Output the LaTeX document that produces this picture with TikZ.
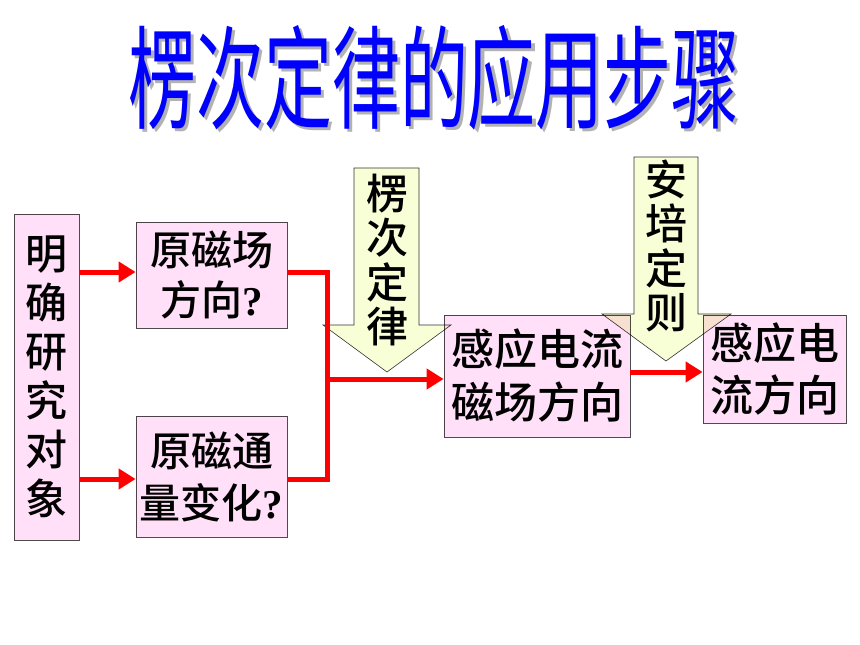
\documentclass[tikz,border=0pt]{standalone}
\usepackage{fontspec}
\newfontfamily\cjk{Noto Sans CJK SC Medium}
\newfontfamily\cjktitle{Noto Sans CJK SC}
\newfontfamily\qmark{Liberation Serif}
\usetikzlibrary{arrows.meta}
\definecolor{boxpink}{RGB}{255,224,248}
\definecolor{lawyellow}{RGB}{248,255,214}
\definecolor{titleblue}{RGB}{0,0,255}
\newcommand{\q}{{\qmark\bfseries ?}}
\tikzset{
	stepbox/.style={draw=black!70, fill=boxpink, line width=0.8pt, inner sep=0pt, align=center},
	boxfont/.style 2 args={font=\cjk\fontsize{#1}{#2}\selectfont},
	lawarrow/.style={draw=black!80, fill=lawyellow, line width=0.6pt},
	lawlabel/.style={inner sep=0pt, align=center, font=\cjk\fontsize{42}{44.5}\selectfont},
	titletext/.style={inner sep=0pt, font=\cjktitle\fontsize{68}{68}\selectfont},
	redline/.style={draw=red, line width=5pt},
	redarrow/.style={redline, -{Triangle[length=17pt,width=20pt]}}
}

\begin{document}
\begin{tikzpicture}[x=1pt,y=-1pt]
		\useasboundingbox (0,0) rectangle (860,645);
		%%%%% TITLE %%%%%
		\node[titletext, text=black!30] at (437,80.5) {\scalebox{1.0}[1.65]{楞次定律的应用步骤}};
		\node[titletext, text=titleblue] (title) at (434,77.5) {\scalebox{1.0}[1.65]{楞次定律的应用步骤}};
		
		%%%%% LAW ARROWS %%%%%
		\draw[lawarrow] (354,168) -- (419,168) -- (419,325) -- (451,325) -- (387,372) -- (323,325) -- (354,325) -- cycle;
		\draw[lawarrow] (634,157) -- (698,157) -- (698,314) -- (731,314) -- (666,361) -- (602,314) -- (634,314) -- cycle;
		
		%%%%% STEPS %%%%%
		\begin{scope}[blend mode=multiply]
		\node[stepbox, boxfont={42}{49}, minimum width=65, minimum height=326] (obj) at (46.5,377) {明\\确\\研\\究\\对\\象};
		\node[stepbox, boxfont={41}{50}, minimum width=151, minimum height=106] (fieldq) at (211.5,275) {原磁场\\方向\q};
		\node[stepbox, boxfont={41}{52}, minimum width=151, minimum height=121] (fluxq) at (211.5,476.5) {原磁通\\量变化\q};
		\node[stepbox, boxfont={43}{53}, minimum width=186, minimum height=122] (indB) at (537,376) {感应电流\\磁场方向};
		\node[stepbox, boxfont={43}{52}, minimum width=143, minimum height=108] (curr) at (774.5,369) {感应电\\流方向};
		\end{scope}
		
		\node[lawlabel] (lenz) at (387,260) {楞\\次\\定\\律};
		\node[lawlabel] (ampere) at (666,246) {安\\培\\定\\则};
		
		%%%%% CONNECTORS %%%%%
		\coordinate (join) at (327,379);
		\draw[redarrow] ([yshift=3pt]obj.east |- fieldq.west) -- ([yshift=3pt]fieldq.west);
		\draw[redarrow] ([yshift=-2.5pt]obj.east |- fluxq.west) -- ([yshift=-2.5pt]fluxq.west);
		\draw[redline] ([yshift=3pt]fieldq.east) -| (join);
		\draw[redline] ([yshift=-2.5pt]fluxq.east) -| (join);
		\draw[redarrow] (join) -- (join -| indB.west);
		\draw[redarrow] ([yshift=-3pt]indB.east |- curr.west) -- ([yshift=-3pt]curr.west);
	\end{tikzpicture}
\end{document}
